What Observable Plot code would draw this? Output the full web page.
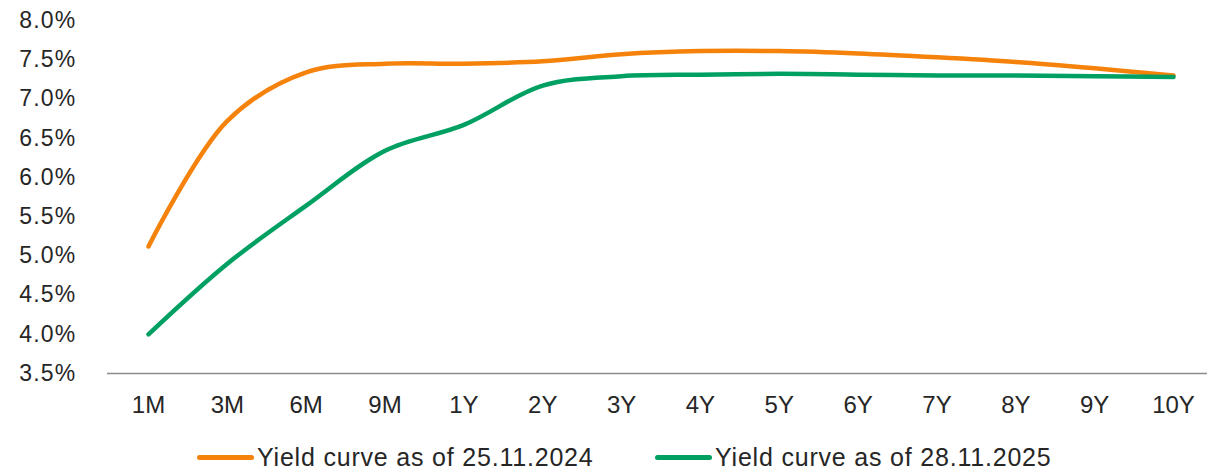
<!DOCTYPE html>
<html>
<head>
<meta charset="utf-8">
<script src="https://cdn.jsdelivr.net/npm/d3@7"></script>
<script src="https://cdn.jsdelivr.net/npm/@observablehq/plot@0.6"></script>
<style>
  html, body { margin: 0; padding: 0; background: #fff; }
  #wrap { position: relative; width: 1207px; height: 471px; overflow: hidden; font-family: "Liberation Sans", Arial, sans-serif; color: #262626; }
  #chart svg { display: block; }
  #chart g[aria-label="y-axis tick label"], #chart g[aria-label="y-axis tick label"] text { font-size: 23px !important; letter-spacing: 1.2px; }
  #chart g[aria-label="x-axis tick label"], #chart g[aria-label="x-axis tick label"] text { font-size: 24px !important; }
  #legend { position: relative; height: 41px; }
  .item { position: absolute; top: 16px; display: flex; align-items: center; height: 22px; line-height: 22px; font-size: 25px; letter-spacing: 0.8px; white-space: nowrap; }
  .sw { display: inline-block; width: 57px; height: 5px; border-radius: 3px; margin-right: 3px; }
</style>
</head>
<body>
<div id="wrap">
  <div id="chart"></div>
  <div id="legend"></div>
</div>
<script>
const tenors = ["1M","3M","6M","9M","1Y","2Y","3Y","4Y","5Y","6Y","7Y","8Y","9Y","10Y"];
const yield2024 = [5.12, 6.72, 7.34, 7.45, 7.45, 7.48, 7.57, 7.61, 7.61, 7.58, 7.53, 7.47, 7.39, 7.30];
const yield2025 = [4.00, 4.90, 5.64, 6.34, 6.67, 7.17, 7.29, 7.31, 7.32, 7.31, 7.30, 7.30, 7.29, 7.28];
const seriesNames = ["Yield curve as of 25.11.2024", "Yield curve as of 28.11.2025"];
const seriesColors = ["#F5820B", "#00A062"];
const yTicks = [3.5, 4.0, 4.5, 5.0, 5.5, 6.0, 6.5, 7.0, 7.5, 8.0];

const data = [
  ...tenors.map((t, i) => ({tenor: t, value: yield2024[i], series: seriesNames[0]})),
  ...tenors.map((t, i) => ({tenor: t, value: yield2025[i], series: seriesNames[1]}))
];

const fmt = d => d.toFixed(1) + "%";

const chart = Plot.plot({
  width: 1207,
  height: 430,
  marginLeft: 107,
  marginRight: 0,
  marginTop: 20,
  marginBottom: 57,
  style: {fontFamily: "'Liberation Sans', Arial, sans-serif", fontSize: "20px", color: "#262626", background: "#fff"},
  x: {type: "point", domain: tenors, range: [148, 1173], padding: 0, round: false, label: null},
  y: {domain: [3.5, 8.0], label: null},
  color: {domain: seriesNames, range: seriesColors},
  marks: [
    Plot.axisY({ticks: yTicks, tickSize: 0, tickPadding: 31, tickFormat: fmt, label: null, fill: "#262626", fontSize: 23}),
    Plot.axisX({tickSize: 0, tickPadding: 22, label: null, fill: "#262626", fontSize: 24}),
    Plot.ruleY([3.5], {stroke: "#8c8c8c", strokeWidth: 1.6}),
    Plot.line(data, {x: "tenor", y: "value", z: "series", stroke: "series", strokeWidth: 4.5, curve: "catmull-rom", strokeLinecap: "round", strokeLinejoin: "round"})
  ]
});
document.getElementById("chart").appendChild(chart);

const legend = document.getElementById("legend");
const lefts = [197, 655];
seriesNames.forEach((name, i) => {
  const it = document.createElement("div");
  it.className = "item";
  it.style.left = lefts[i] + "px";
  const sw = document.createElement("span");
  sw.className = "sw";
  sw.style.background = seriesColors[i];
  const tx = document.createElement("span");
  tx.textContent = name;
  it.appendChild(sw);
  it.appendChild(tx);
  legend.appendChild(it);
});
</script>
</body>
</html>
